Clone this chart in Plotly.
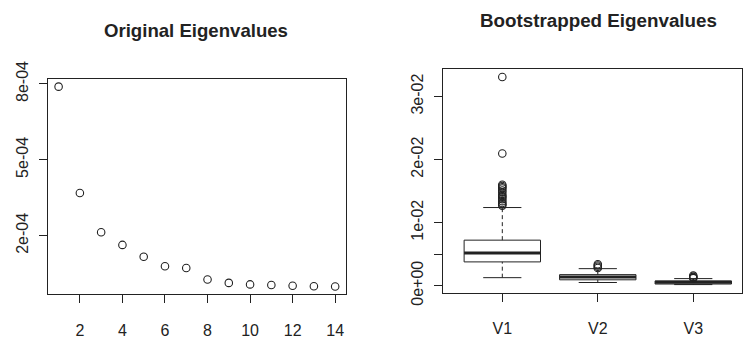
import plotly.graph_objects as go

# ---------------- data ----------------
component = list(range(1, 15))
eigenvalue = [7.89e-4, 3.69e-4, 2.14e-4, 1.64e-4, 1.17e-4, 0.80e-4, 0.73e-4,
              0.275e-4, 0.14e-4, 0.08e-4, 0.06e-4, 0.025e-4, 0.01e-4, 0.0]
left_xticks = [2, 4, 6, 8, 10, 12, 14]
left_yticks = [2e-4, 5e-4, 8e-4]
left_ytext = ["2e-04", "5e-04", "8e-04"]

groups = ["V1", "V2", "V3"]
q1 = [0.00377, 0.00093, 0.00026]
median = [0.00520, 0.00137, 0.00055]
q3 = [0.00722, 0.00175, 0.00075]
lower_whisker = [0.00127, 0.00050, 0.00017]
upper_whisker = [0.01239, 0.00270, 0.00112]
outliers = {
    "V1": [0.0331, 0.02096, 0.0160, 0.0158, 0.0156, 0.0154, 0.0151, 0.0148,
           0.0144, 0.0142, 0.0140, 0.0137, 0.0134, 0.0131, 0.0129, 0.0127],
    "V2": [0.0028, 0.0030, 0.0032, 0.0034],
    "V3": [0.0012, 0.0013, 0.0014, 0.0016],
}
right_yticks = [0, 0.005, 0.01, 0.02, 0.03]
right_ytext = ["0e+00", "", "1e-02", "2e-02", "3e-02"]

# ---------------- style ----------------
INK = "#222222"
FONT = "Liberation Sans, Arial, Helvetica, sans-serif"
W, H = 743, 342
BOX_HALF = 0.4

def pad_range(vals, frac=0.04):
    lo, hi = min(vals), max(vals)
    d = (hi - lo) * frac
    return [lo - d, hi + d]

fig = go.Figure()

# left panel: scatter of eigenvalues
fig.add_trace(go.Scatter(
    x=component, y=eigenvalue, mode="markers", xaxis="x", yaxis="y",
    marker=dict(symbol="circle-open", size=7.5, color=INK, line=dict(width=1.1, color=INK)),
    showlegend=False, hoverinfo="x+y"))

# right panel: boxplots built from summary stats
pos = [i + 1 for i in range(len(groups))]
bx, by, mx, my, wx, wy, cx, cy = [], [], [], [], [], [], [], []
for c, a, m, b, lo, hi in zip(pos, q1, median, q3, lower_whisker, upper_whisker):
    bx += [c - BOX_HALF, c + BOX_HALF, c + BOX_HALF, c - BOX_HALF, c - BOX_HALF, None]
    by += [a, a, b, b, a, None]
    mx += [c - BOX_HALF, c + BOX_HALF, None]
    my += [m, m, None]
    wx += [c, c, None, c, c, None]
    wy += [b, hi, None, lo, a, None]
    cx += [c - BOX_HALF / 2, c + BOX_HALF / 2, None, c - BOX_HALF / 2, c + BOX_HALF / 2, None]
    cy += [hi, hi, None, lo, lo, None]

common = dict(xaxis="x2", yaxis="y2", showlegend=False, hoverinfo="skip", mode="lines")
fig.add_trace(go.Scatter(x=wx, y=wy, line=dict(color=INK, width=1, dash="4px,3px"), **common))
fig.add_trace(go.Scatter(x=cx, y=cy, line=dict(color=INK, width=1), **common))
fig.add_trace(go.Scatter(x=bx, y=by, line=dict(color=INK, width=1), **common))
fig.add_trace(go.Scatter(x=mx, y=my, line=dict(color=INK, width=3), **common))

ox, oy = [], []
for c, g in zip(pos, groups):
    ox += [c] * len(outliers[g])
    oy += outliers[g]
fig.add_trace(go.Scatter(
    x=ox, y=oy, mode="markers", xaxis="x2", yaxis="y2", showlegend=False,
    marker=dict(symbol="circle-open", size=7.5, color=INK, line=dict(width=1.1, color=INK))))

all_right = lower_whisker + upper_whisker + sum(outliers.values(), [])

axis_style = dict(showline=True, mirror=True, linecolor=INK, linewidth=1,
                  showgrid=False, zeroline=False, ticks="outside", ticklen=8,
                  tickcolor=INK, tickwidth=1,
                  tickfont=dict(family=FONT, size=16, color=INK))

fig.update_layout(
    width=W, height=H, margin=dict(l=0, r=0, t=0, b=0),
    paper_bgcolor="white", plot_bgcolor="white",
    xaxis=dict(domain=[47.6 / W, 346.7 / W], anchor="y",
               range=pad_range(component), tickmode="array", tickvals=left_xticks,
               ticklabelstandoff=13, **axis_style),
    yaxis=dict(domain=[(H - 304) / H, (H - 66.7) / H], anchor="x",
               range=pad_range(eigenvalue), tickmode="array", tickvals=left_yticks,
               ticktext=left_ytext, tickangle=-90, ticklabelstandoff=4, **axis_style),
    xaxis2=dict(domain=[443.7 / W, 742.5 / W], anchor="y2",
                range=[0.38, 3.505], tickmode="array", tickvals=pos, ticktext=groups,
                ticklabelstandoff=13, **axis_style),
    yaxis2=dict(domain=[(H - 302.3) / H, (H - 55.7) / H], anchor="x2",
                range=pad_range(all_right), tickmode="array", tickvals=right_yticks,
                ticktext=right_ytext, tickangle=-90, ticklabelstandoff=5, **axis_style),
    annotations=[
        dict(text="Original Eigenvalues", x=196.7 / W, y=(H - 14) / H,
             xref="paper", yref="paper", xanchor="center", yanchor="middle",
             showarrow=False, font=dict(family=FONT, size=18.6, color=INK, weight="bold")),
        dict(text="Bootstrapped Eigenvalues", x=599.5 / W, y=(H - 3) / H,
             xref="paper", yref="paper", xanchor="center", yanchor="middle",
             showarrow=False, font=dict(family=FONT, size=18.8, color=INK, weight="bold")),
    ],
)

fig.write_html("out.html")
